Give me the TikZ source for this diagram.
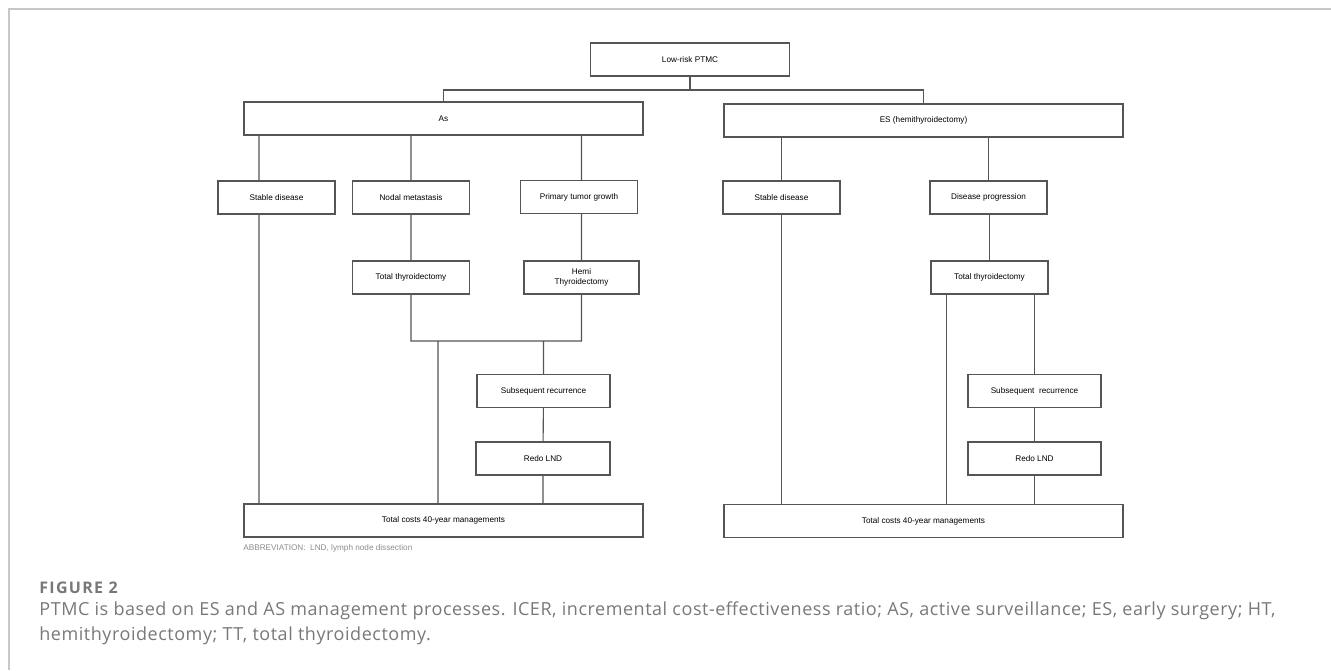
\documentclass[tikz,border=0pt]{standalone}
\usepackage{fontspec}
\setmainfont{Liberation Sans}
\newfontfamily\capfont{Open Sans}[LetterSpace=3]
\newfontfamily\figfont{Open Sans}[LetterSpace=8]
\usetikzlibrary{positioning}

\definecolor{linegray}{RGB}{85,85,85}
\definecolor{framegray}{RGB}{200,200,200}
\definecolor{capgray}{RGB}{120,120,120}
\definecolor{abbrgray}{RGB}{140,140,140}

\tikzset{
    box/.style={draw=linegray, line width=0.55pt, minimum height=16.5pt, inner sep=0pt,
                align=center, font=\fontsize{4.1}{5}\selectfont},
    smallbox/.style={box, minimum width=58.5pt},
    widebox/.style={box, minimum width=199.5pt},
    link/.style={draw=linegray, line width=0.55pt}
}

\begin{document}
\begin{tikzpicture}[x=0.5pt,y=-0.5pt]
            \useasboundingbox (0,0) rectangle (1331,670);
            \draw[framegray, line width=0.8pt] (9,670) -- (9,9) -- (1331,9); % page frame

            \node[box, minimum width=99.5pt]   (risk) at (690,59.5)    {Low-risk PTMC};
            \node[widebox]                      (as)   at (443.5,118.5) {As};
            \node[widebox]                      (es)   at (923.5,120.5) {ES (hemithyroidectomy)};

            % AS branch
            \node[smallbox]                     (sdA)  at (276.5,197.5) {Stable disease};
            \node[smallbox]                     (nm)   at (411,197.5)   {Nodal metastasis};
            \node[smallbox]                     (ptg)  at (579,197)     {Primary tumor growth};
            \node[smallbox]                     (ttA)  at (411,277.5)   {Total thyroidectomy};
            \node[box, minimum width=57.5pt]    (ht)   at (581.5,277.5) {Hemi\\Thyroidectomy};
            \node[box, minimum width=66.5pt]    (srA)  at (543.5,391)   {Subsequent recurrence};
            \node[box, minimum width=67pt]      (rlA)  at (543,458.5)   {Redo LND};
            \node[widebox]                      (totA) at (443.5,520.5) {Total costs 40-year managements};

            % ES branch
            \node[smallbox]                     (sdB)  at (781.5,197.5) {Stable disease};
            \node[smallbox]                     (dp)   at (988.5,197.5) {Disease progression};
            \node[smallbox]                     (ttB)  at (989.5,277.5) {Total thyroidectomy};
            \node[box, minimum width=66.5pt]    (srB)  at (1034.5,391)  {Subsequent\ \ recurrence};
            \node[box, minimum width=66.5pt]    (rlB)  at (1034.5,458.5) {Redo LND};
            \node[widebox]                      (totB) at (923.5,521)   {Total costs 40-year managements};

            \node[anchor=base west, text=abbrgray, inner sep=0pt, font=\fontsize{4.1}{5}\selectfont]
                (abbr) at (243,550) {ABBREVIATION:\ \ LND, lymph node dissection};

            \coordinate (j0) at (690,90);
            \coordinate (jA) at (438,341);
            \coordinate (xB) at (946.5,0);

            \path[link]
            (risk) -- (j0)
            (as.north) |- (j0) -| (es.north);

            % AS links
            \path[link]
            ([xshift=-8.75pt]sdA.north) -- ([xshift=-8.75pt]sdA.north |- as.south)
            ([xshift=-8.75pt]sdA.south) -- ([xshift=-8.75pt]sdA.south |- totA.north)
            (nm.north) -- (nm.north |- as.south)
            (nm) -- (ttA)
            (ht.north |- as.south) -- (ht.north |- ptg.north)
            (ht.north |- ptg.south) -- (ht.north)
            (ttA.south) -- (ttA.south |- jA) -- (ht.south |- jA) -- (ht.south)
            (jA) -- (jA |- totA.north)
            (srA.north |- jA) -- (srA.north)
            (srA) -- (rlA)
            (rlA.south) -- (rlA.south |- totA.north);

            % ES links
            \path[link]
            (sdB.north) -- (sdB.north |- es.south)
            (sdB.south) -- (sdB.south |- totB.north)
            (dp.north) -- (dp.north |- es.south)
            (ttB.north |- dp.south) -- (ttB.north)
            (xB |- ttB.south) -- (xB |- totB.north)
            (srB.north |- ttB.south) -- (srB.north)
            (srB) -- (rlB)
            (rlB.south) -- (rlB.south |- totB.north);

            % caption
            \node[anchor=base west, inner sep=0pt, text=capgray, font=\figfont\bfseries\fontsize{8}{9}\selectfont]
                (fig) at (39,593) {FIGURE 2};
            \node[anchor=base west, inner sep=0pt, text=capgray, font=\capfont\fontsize{9}{11}\selectfont]
                (cap1) at (39,615) {PTMC is based on ES and AS management processes. ICER, incremental cost-effectiveness ratio; AS, active surveillance; ES, early surgery; HT,};
            \node[anchor=base west, inner sep=0pt, text=capgray, font=\capfont\fontsize{9}{11}\selectfont]
                (cap2) at (39,640) {hemithyroidectomy; TT, total thyroidectomy.};
        \end{tikzpicture}
\end{document}
